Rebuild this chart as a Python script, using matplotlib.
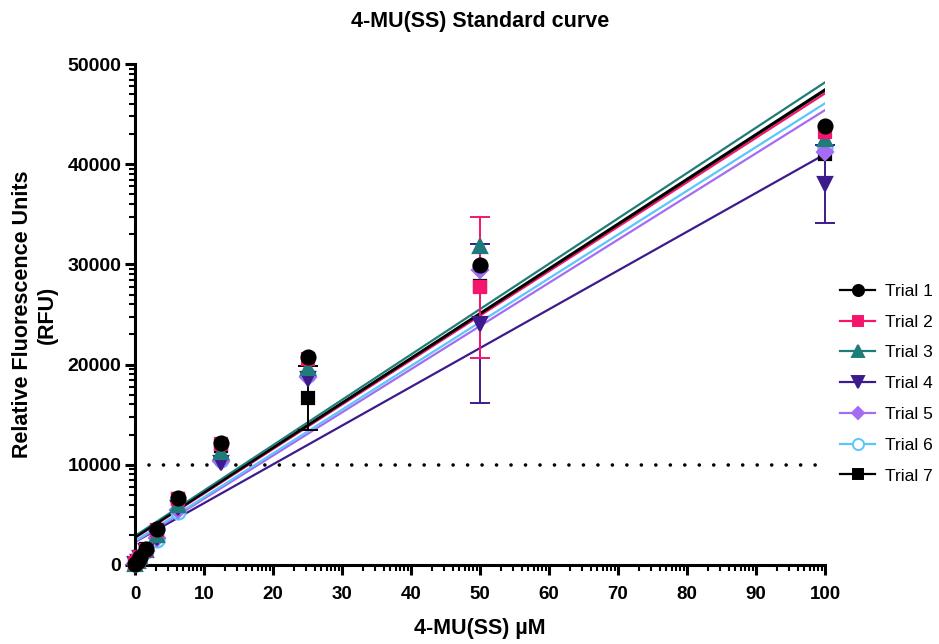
import numpy as np
import matplotlib
matplotlib.use("Agg")
import matplotlib.pyplot as plt
from matplotlib import rcParams

# 4-MU(SS) concentrations (uM)
conc = [0, 0.39, 0.78, 1.5625, 3.125, 6.25, 12.5, 25, 50, 100]

trial_names = ["Trial 1", "Trial 2", "Trial 3", "Trial 4", "Trial 5", "Trial 6", "Trial 7"]

# mean RFU per trial
trial1 = [100, 400, 800, 1600, 3600, 6700, 12200, 20800, 29900, 43800]
trial2 = [150, 400, 800, 1500, 3500, 6600, 12100, 20600, 27700, 43200]
trial3 = [100, 350, 750, 1450, 3000, 6000, 11300, 19700, 31800, 42500]
trial4 = [50, 300, 700, 1350, 2700, 5700, 10200, 18600, 24100, 38000]
trial5 = [50, 300, 700, 1350, 2700, 5500, 10400, 18800, 29400, 41200]
trial6 = [50, 300, 700, 1350, 2500, 5300, 10500, 19000, 29800, 41600]
trial7 = [100, 400, 800, 1550, 3400, 6600, 11900, 16700, 27800, 41000]

# SD (only the visible bars)
sd2 = [0, 0, 0, 0, 0, 0, 0, 0, 7000, 0]
sd4 = [0, 0, 0, 0, 0, 0, 0, 0, 7900, 3900]
sd7 = [0, 0, 0, 0, 0, 0, 0, 3200, 0, 0]
sd_none = [0] * 10

# linear fits (intercept, slope) per trial
fit_intercept = [2800, 2700, 2900, 2300, 2300, 2400, 2750]
fit_slope = [446.7, 443.7, 452.7, 387.0, 431.0, 436.8, 446.0]

threshold = 10000

colors = ["#000000", "#F5156D", "#1E7D78", "#3D1B8C", "#A46BF4", "#5CC6FA", "#000000"]
markers = ["o", "s", "^", "v", "D", "o", "s"]
sizes = [10, 9, 10, 10, 8, 10, 9]


def main():
    rcParams["font.family"] = ["Liberation Sans", "DejaVu Sans"]
    means = [trial1, trial2, trial3, trial4, trial5, trial6, trial7]
    sds = [sd_none, sd2, sd_none, sd4, sd_none, sd_none, sd7]

    fig = plt.figure(figsize=(9.39, 6.44), dpi=100)
    ax = fig.add_axes([0.1438, 0.1227, 0.7348, 0.7779])

    x = np.array(conc)
    xline = np.array([conc[0], conc[-1]])
    for i in range(len(means)):
        ax.plot(xline, fit_intercept[i] + fit_slope[i] * xline, color=colors[i], lw=1.6, zorder=2)

    ax.plot([2, 100], [threshold, threshold], color="black", lw=2.6,
            linestyle=(0, (0.01, 4.0)), dash_capstyle="round", zorder=1)

    for i in range(len(means) - 1, -1, -1):
        face = "white" if i == 5 else colors[i]
        y = np.array(means[i])
        sd = np.array(sds[i])
        keep = sd > 0
        if keep.any():
            ax.errorbar(x[keep], y[keep], yerr=sd[keep], fmt="none", ecolor=colors[i],
                        elinewidth=1.4, capsize=7, capthick=1.4, zorder=3, clip_on=False)
        ax.plot(x, y, linestyle="none", marker=markers[i], ms=sizes[i],
                mfc=face, mec=colors[i], mew=1.6, zorder=4 + (len(means) - i), clip_on=False)

    # legend handles: line + marker
    leg_handles = []
    for i in range(len(means)):
        face = "white" if i == 5 else colors[i]
        lh, = ax.plot([], [], color=colors[i], lw=1.6, marker=markers[i], ms=sizes[i] - 2,
                      mfc=face, mec=colors[i], mew=1.4)
        leg_handles.append(lh)
    ax.legend(leg_handles, trial_names, loc="center left", bbox_to_anchor=(1.012, 0.362),
              frameon=False, fontsize=12.5, handlelength=2.0, handletextpad=0.55,
              labelspacing=0.9, borderaxespad=0)

    ax.set_xlim(0, 100)
    ax.set_ylim(0, 50000)
    ax.set_xticks(range(0, 101, 10))
    ax.set_yticks(range(0, 50001, 10000))
    xminor = [10 * d + 10 * np.log10(k) for d in range(10) for k in range(2, 10)]
    yminor = [10000 * d + 10000 * np.log10(k) for d in range(5) for k in range(2, 10)]
    ax.set_xticks(xminor, minor=True)
    ax.set_yticks(yminor, minor=True)

    for s in ["top", "right"]:
        ax.spines[s].set_visible(False)
    for s in ["left", "bottom"]:
        ax.spines[s].set_linewidth(2.2)
    ax.tick_params(which="major", length=7, width=2.2, pad=4)
    ax.tick_params(axis="x", which="major", labelsize=13.5, pad=8)
    ax.tick_params(axis="y", which="major", labelsize=14, pad=3)
    ax.tick_params(which="minor", length=4, width=1.5)
    for lab in ax.get_xticklabels() + ax.get_yticklabels():
        lab.set_fontweight("bold")

    ax.set_xlabel("4-MU(SS) \u00b5M", fontsize=15.5, fontweight="bold", labelpad=11)
    ax.set_ylabel("Relative Fluorescence Units\n(RFU)", fontsize=15.5, fontweight="bold", labelpad=7)
    ax.set_title("4-MU(SS) Standard curve", fontsize=15.5, fontweight="bold", pad=27)

    fig.savefig("out.png", dpi=100)


if __name__ == "__main__":
    main()
